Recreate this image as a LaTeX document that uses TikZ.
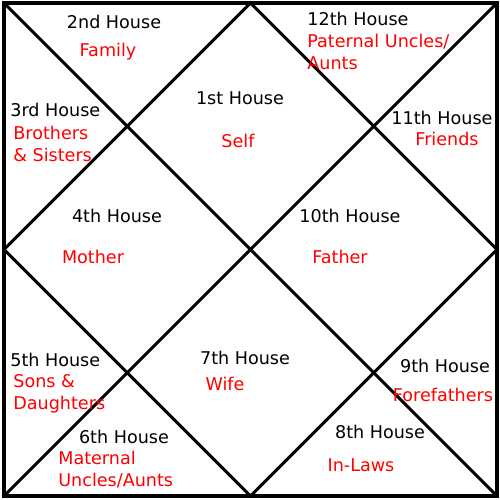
\documentclass[tikz,border=0pt]{standalone}
\usepackage{fontspec}
\setmainfont{DejaVu Sans}
\usepackage{xcolor}
\usetikzlibrary{calc}
\definecolor{house}{HTML}{000000}
\definecolor{meaning}{HTML}{FF0000}

\begin{document}
\begin{tikzpicture}[
  frame/.style={draw=black, line width=2.2pt},
  grid/.style={draw=black, line width=1.7pt},
  hname/.style={text=house, inner sep=0pt, font=\fontsize{10}{12.5}\selectfont},
  hmean/.style={text=meaning, inner sep=0pt, align=left, font=\fontsize{10}{12.5}\selectfont}]
  \useasboundingbox (0,0) rectangle (10,10);
  % corners and midpoints of the chart
  \coordinate (sw) at (0.08,0.08);
  \coordinate (ne) at (9.94,9.94);
  \coordinate (nw) at (0.08,9.94);
  \coordinate (se) at (9.94,0.08);
  \coordinate (n) at ($(nw)!0.5!(ne)$);
  \coordinate (s) at ($(sw)!0.5!(se)$);
  \coordinate (w) at ($(sw)!0.5!(nw)$);
  \coordinate (e) at ($(se)!0.5!(ne)$);
  \draw[frame] (sw) rectangle (ne);
  \draw[grid] (sw) -- (ne);
  \draw[grid] (nw) -- (se);
  \draw[grid] (n) -- (e) -- (s) -- (w) -- cycle;
  % houses
  \node[hname] (h1) at (4.80,8.04) {1st House};
  \node[hmean] (m1) at (4.76,7.18) {Self};
  \node[hname] (h2) at (2.28,9.56) {2nd House};
  \node[hmean] (m2) at (2.16,8.96) {Family};
  \node[hname, anchor=west] (h3) at (0.20,7.80) {3rd House};
  \node[hmean, anchor=west] (m3) at (0.26,7.12) {Brothers\\\& Sisters};
  \node[hname] (h4) at (2.34,5.68) {4th House};
  \node[hmean] (m4) at (1.86,4.86) {Mother};
  \node[hname, anchor=west] (h5) at (0.20,2.80) {5th House};
  \node[hmean, anchor=west] (m5) at (0.26,2.13) {Sons \&\\Daughters};
  \node[hname] (h6) at (2.48,1.26) {6th House};
  \node[hmean, anchor=west] (m6) at (1.16,0.61) {Maternal\\Uncles/Aunts};
  \node[hname] (h7) at (4.90,2.84) {7th House};
  \node[hmean] (m7) at (4.50,2.32) {Wife};
  \node[hname] (h8) at (7.60,1.36) {8th House};
  \node[hmean] (m8) at (7.22,0.70) {In-Laws};
  \node[hname] (h9) at (8.90,2.68) {9th House};
  \node[hmean] (m9) at (8.86,2.10) {Forefathers};
  \node[hname] (h10) at (7.00,5.68) {10th House};
  \node[hmean] (m10) at (6.80,4.86) {Father};
  \node[hname] (h11) at (8.84,7.64) {11th House};
  \node[hmean] (m11) at (8.94,7.22) {Friends};
  \node[hname] (h12) at (7.16,9.62) {12th House};
  \node[hmean, anchor=west] (m12) at (6.14,8.96) {Paternal Uncles/\\Aunts};
\end{tikzpicture}
\end{document}
